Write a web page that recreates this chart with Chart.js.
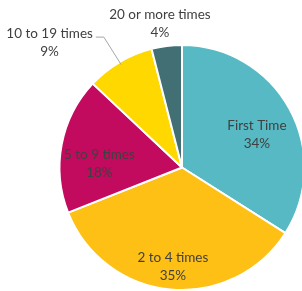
<!DOCTYPE html>
<html>
<head>
<meta charset="utf-8">
<script src="https://cdn.jsdelivr.net/npm/chart.js@4"></script>
<style>
  html, body { margin: 0; padding: 0; background: #fff; overflow: hidden; }
  #wrap { width: 310px; height: 291px; }
</style>
</head>
<body>
<div id="wrap"><canvas id="pieCanvas"></canvas></div>
<script>
// Visit frequency shares (percent)
const categories = ["First Time", "2 to 4 times", "5 to 9 times", "10 to 19 times", "20 or more times"];
const shares = [34, 35, 18, 9, 4];
const valueLabels = ["34%", "35%", "18%", "9%", "4%"];
const sliceColors = ["#56B9C3", "#FEC014", "#C20A5E", "#FFD800", "#416F74"];

// label placement: fraction of radius, plus small nudge; outside labels get a leader
const labelRadius = [0.67, 0.79, 0.67, 1.45, 1.18];
const labelNudge = [[3, 7], [0, 3], [-2, 12], [-42, 28], [-4, 0]];

const FONT = "13.5px Lato";
const TEXT_COLOR = "#404040";

const sliceLabels = {
  id: "sliceLabels",
  afterDraw(chart) {
    const c = chart.ctx;
    const arcs = chart.getDatasetMeta(0).data;
    c.save();
    c.font = FONT;
    c.fillStyle = TEXT_COLOR;
    c.textAlign = "center";
    c.textBaseline = "middle";
    arcs.forEach((arc, i) => {
      const mid = (arc.startAngle + arc.endAngle) / 2;
      const r = arc.outerRadius * labelRadius[i];
      const x = arc.x + Math.cos(mid) * r + labelNudge[i][0];
      const y = arc.y + Math.sin(mid) * r + labelNudge[i][1];
      c.fillText(categories[i], x, y - 9);
      c.fillText(valueLabels[i], x, y + 9);

      // leader line for the 10 to 19 slice
      if (i === 3) {
        const w = c.measureText(categories[i]).width;
        const sx = x + w / 2 + 3;
        const ex = arc.x + Math.cos(mid) * (arc.outerRadius - 3);
        const ey = arc.y + Math.sin(mid) * (arc.outerRadius - 3);
        c.strokeStyle = "#A6A6A6";
        c.lineWidth = 1;
        c.beginPath();
        c.moveTo(sx, y - 5.5);
        c.lineTo(sx + 8, y - 5.5);
        c.lineTo(ex, ey);
        c.stroke();
      }
    });
    c.restore();
  }
};

const ctx = document.getElementById("pieCanvas").getContext("2d");
new Chart(ctx, {
  type: "pie",
  data: {
    labels: categories,
    datasets: [{
      data: shares,
      backgroundColor: sliceColors,
      borderColor: "#ffffff",
      borderWidth: 2
    }]
  },
  options: {
    responsive: true,
    maintainAspectRatio: false,
    animation: false,
    layout: { padding: { top: 44, bottom: 0, left: 58, right: 4 } },
    plugins: {
      legend: { display: false },
      tooltip: { enabled: false }
    }
  },
  plugins: [sliceLabels]
});
</script>
</body>
</html>
